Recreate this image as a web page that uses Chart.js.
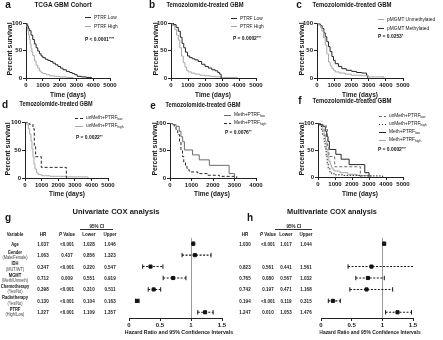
<!DOCTYPE html>
<html>
<head>
<meta charset="utf-8">
<script src="https://cdn.jsdelivr.net/npm/chart.js@4.4.0/dist/chart.umd.min.js"></script>
<style>
  body { margin: 0; background: #fff; }
  #fig { position: relative; width: 443px; height: 340px; overflow: hidden;
         font-family: "Liberation Sans", Arial, sans-serif; color: #161616; }
  #fig canvas { position: absolute; }
  .t { position: absolute; white-space: nowrap; line-height: 1; }
  .t sup { font-size: 70%; vertical-align: 35%; }
  .t sub { font-size: 70%; vertical-align: -20%; }
  .key { position: absolute; height: 1px; }
</style>
</head>
<body>
<div id="fig"></div>
<script>
// Kaplan-Meier curves: day of each step and % surviving after it
const tcgaLowDays   = [0, 50, 100, 150, 200, 300, 400, 500, 600, 700, 800, 900, 1000, 1150, 1300, 1450, 1600, 1750, 1900, 2050, 2200, 2400, 2600, 2750, 2900, 3050, 3300, 3600, 3900];
const tcgaLowSurv   = [100, 97, 94, 90, 86, 78, 70, 62, 55, 49, 44, 40, 37, 34, 32, 30, 27, 24, 21, 18, 15, 12, 10, 8, 6, 3, 2, 1, 0];
const tcgaHighDays  = [0, 50, 100, 150, 200, 250, 300, 350, 400, 500, 600, 700, 800, 900, 1000, 1200, 1400, 1700, 2000, 2400, 2800];
const tcgaHighSurv  = [100, 93, 86, 78, 70, 62, 54, 47, 41, 31, 23, 18, 13, 10, 8, 6, 4, 3, 2, 1, 0];

const tmzLowDays    = [0, 150, 300, 430, 550, 650, 750, 850, 970, 1100, 1250, 1400, 1600, 1800, 2000, 2200, 2400, 2600, 2750, 2860, 2950];
const tmzLowSurv    = [100, 97, 92, 85, 74, 63, 55, 47, 40, 37, 35, 33, 30, 25, 21, 18, 15, 13, 10, 7, 0];
const tmzHighDays   = [0, 100, 230, 330, 430, 520, 620, 720, 820, 920, 1000, 1200, 1400, 1700, 2000, 2300, 2600, 3000, 3900];
const tmzHighSurv   = [100, 95, 88, 78, 69, 55, 40, 28, 20, 14, 11, 9, 7, 5, 4, 3, 2, 1, 0];

const methDays      = [0, 100, 200, 300, 400, 480, 570, 670, 760, 865, 960, 1060, 1250, 1440, 1700, 2020, 2300, 2600, 2880, 2950];
const methSurv      = [100, 98, 95, 90, 82, 75, 66, 57, 48, 39, 32, 26, 21, 17, 14, 12, 10, 9, 5, 0];
const unmethDays    = [0, 100, 200, 290, 380, 480, 570, 670, 770, 865, 960, 1060, 1300, 1630, 2000, 2600, 3000, 3900];
const unmethSurv    = [100, 96, 92, 85, 73, 60, 44, 29, 22, 17, 14, 11, 9, 7, 5, 4, 2, 0];

const unmethLowDays  = [0, 250, 480, 560, 640, 980, 2490];
const unmethLowSurv  = [100, 96, 88, 58, 38, 19, 0];
const unmethHighDays = [0, 100, 200, 280, 360, 420, 480, 540, 600, 700, 800, 1000, 1500, 2500, 3800];
const unmethHighSurv = [100, 96, 88, 78, 66, 52, 38, 25, 16, 9, 6, 4, 3, 2, 0];

const methLowDays   = [0, 120, 280, 430, 510, 590, 670, 1050, 1360, 1830, 2750, 3000];
const methLowSurv   = [100, 97, 94, 85, 75, 66, 51, 42, 33, 23, 8, 0];
const methHighDays  = [0, 100, 200, 280, 360, 440, 510, 580, 640, 720, 790, 880, 980, 1290, 1750, 2300, 3100];
const methHighSurv  = [100, 97, 94, 88, 79, 66, 51, 39, 29, 22, 17, 13, 11, 8, 5, 3, 0];

// axis ticks
const dayTicks5k = [0, 1000, 2000, 3000, 4000, 5000];
const dayTicks4k = [0, 1000, 2000, 3000, 4000];
const survTicks  = [0, 50, 100];

// Cox regression results
const coxVars    = ['Age', 'Gender', 'IDH', 'MGMT', 'Chemotherapy', 'Radiotherapy', 'PTRF'];
const coxVarSub  = ['', '(Male/Female)', '(MUT/WT)', '(Meth/Unmeth)', '(Yes/No)', '(Yes/No)', '(High/Low)'];
const uniHR      = [1.037, 1.063, 0.347, 0.712, 0.398, 0.130, 1.227];
const uniP       = ['<0.001', '0.437', '<0.001', '0.009', '<0.001', '<0.001', '<0.001'];
const uniLower   = [1.028, 0.856, 0.220, 0.551, 0.310, 0.104, 1.109];
const uniUpper   = [1.046, 1.323, 0.547, 0.919, 0.511, 0.163, 1.357];
const multiHR    = [1.030, null, 0.823, 0.765, 0.742, 0.194, 1.247];
const multiP     = ['<0.001', null, '0.561', '0.080', '0.197', '<0.001', '0.010'];
const multiLower = [1.017, null, 0.441, 0.567, 0.471, 0.119, 1.053];
const multiUpper = [1.044, null, 1.561, 1.032, 1.168, 0.315, 1.476];
const hrTicks    = [0, 0.5, 1, 1.5];

const fig = document.getElementById('fig');
const FONT = '"Liberation Sans", Arial, sans-serif';
Chart.defaults.font.family = FONT;
Chart.defaults.color = '#161616';
const DARK = '#262626', MID = '#6c6c6c', LIGHT = '#a8a8a8';

function label(html, x, y, o) {
  o = o || {};
  const el = document.createElement('div');
  el.className = 't';
  el.innerHTML = html;
  el.style.fontSize = (o.size || 6) + 'px';
  el.style.fontWeight = o.bold === false ? 'normal' : 'bold';
  if (o.color) el.style.color = o.color;
  el.style.left = x + 'px';
  el.style.top = y + 'px';
  fig.appendChild(el);
  let k = o.k || 1;
  if (o.w) k = o.w / el.offsetWidth;
  const left = o.align === 'left';
  el.style.transformOrigin = left ? '0 50%' : '50% 50%';
  el.style.transform = 'translate(' + (left ? '0' : '-50%') + ',-50%) rotate(' + (o.rot || 0) + 'deg) scaleX(' + k + ')';
}

function keyLine(x, y, len, color, dash) {
  const el = document.createElement('div');
  el.className = 'key';
  el.style.left = x + 'px';
  el.style.top = (y - 0.5) + 'px';
  el.style.width = len + 'px';
  el.style.background = dash
    ? 'repeating-linear-gradient(90deg,' + color + ' 0 ' + dash[0] + 'px, transparent ' + dash[0] + 'px ' + (dash[0] + dash[1]) + 'px)'
    : color;
  fig.appendChild(el);
}

function addCanvas(b) {
  const c = document.createElement('canvas');
  c.width = b.w; c.height = b.h;
  c.style.left = b.x + 'px'; c.style.top = b.y + 'px';
  c.style.width = b.w + 'px'; c.style.height = b.h + 'px';
  fig.appendChild(c);
  return c;
}

const tickFont = { family: FONT, size: 6, weight: 'bold' };

const kmPanels = [
  { letter: 'a', at: [8, 5], title: 'TCGA GBM Cohort', titleAt: [63, 5], titleW: 57,
    box: { x: 0, y: 0, w: 148, h: 97 }, plot: { l: 26, r: 110, t: 23, b: 78 }, xTicks: dayTicks5k,
    yLab: [9, 49], xLab: [68, 94],
    curves: [
      { days: tcgaLowDays, surv: tcgaLowSurv, color: DARK, name: 'PTRF Low' },
      { days: tcgaHighDays, surv: tcgaHighSurv, color: LIGHT, name: 'PTRF High' }],
    key: { x: 85, len: 6, ys: [17, 26] }, p: { text: 'P &lt; 0.0001', stars: '****', x: 85, y: 39 } },
  { letter: 'b', at: [152, 5], title: 'Temozolomide-treated GBM', titleAt: [205, 5], titleW: 77,
    box: { x: 148, y: 0, w: 147, h: 97 }, plot: { l: 171, r: 256, t: 23, b: 78 }, xTicks: dayTicks5k,
    yLab: [155, 49], xLab: [213, 94],
    curves: [
      { days: tmzLowDays, surv: tmzLowSurv, color: DARK, name: 'PTRF Low' },
      { days: tmzHighDays, surv: tmzHighSurv, color: LIGHT, name: 'PTRF High' }],
    key: { x: 231, len: 6, ys: [18, 26] }, p: { text: 'P = 0.0002', stars: '***', x: 233, y: 38 } },
  { letter: 'c', at: [299, 5], title: 'Temozolomide-treated GBM', titleAt: [352, 5], titleW: 79,
    box: { x: 295, y: 0, w: 148, h: 97 }, plot: { l: 317, r: 403, t: 23, b: 78 }, xTicks: dayTicks5k,
    yLab: [301, 49], xLab: [360, 94],
    curves: [
      { days: unmethDays, surv: unmethSurv, color: LIGHT, name: 'pMGMT Unmethylated' },
      { days: methDays, surv: methSurv, color: DARK, name: 'pMGMT Methylated' }],
    key: { x: 378, len: 6, ys: [19, 28] }, p: { text: 'P = 0.0253', stars: '*', x: 378, y: 36 } },
  { letter: 'd', at: [5, 105], title: 'Temozolomide-treated GBM', titleAt: [56, 104], titleW: 73,
    box: { x: 0, y: 97, w: 148, h: 98 }, plot: { l: 25, r: 108, t: 122, b: 178 }, xTicks: dayTicks5k,
    yLab: [7, 149], xLab: [67, 193],
    curves: [
      { days: unmethLowDays, surv: unmethLowSurv, color: DARK, dash: [3, 2], name: 'unMeth+PTRF<sub>low</sub>' },
      { days: unmethHighDays, surv: unmethHighSurv, color: LIGHT, name: 'unMeth+PTRF<sub>high</sub>' }],
    key: { x: 75, len: 8, ys: [118, 126] }, p: { text: 'P = 0.0022', stars: '**', x: 76, y: 137 } },
  { letter: 'e', at: [153, 106], title: 'Temozolomide-treated GBM', titleAt: [203, 105], titleW: 75,
    box: { x: 148, y: 97, w: 147, h: 98 }, plot: { l: 170, r: 256, t: 123, b: 178 }, xTicks: dayTicks4k,
    yLab: [154, 149], xLab: [212, 193],
    curves: [
      { days: methLowDays, surv: methLowSurv, color: MID, name: 'Meth+PTRF<sub>low</sub>' },
      { days: methHighDays, surv: methHighSurv, color: DARK, dash: [3, 2], name: 'Meth+PTRF<sub>high</sub>' }],
    key: { x: 224, len: 7, ys: [115, 123] }, p: { text: 'P = 0.0076', stars: '**', x: 225, y: 132 } },
  { letter: 'f', at: [300, 101], title: 'Temozolomide-treated GBM', titleAt: [352, 101], titleW: 79,
    box: { x: 295, y: 97, w: 148, h: 98 }, plot: { l: 318, r: 403, t: 123, b: 177 }, xTicks: dayTicks5k,
    yLab: [301, 149], xLab: [360, 193],
    curves: [
      { days: unmethLowDays, surv: unmethLowSurv, color: MID, dash: [3, 2], name: 'unMeth+PTRF<sub>low</sub>' },
      { days: unmethHighDays, surv: unmethHighSurv, color: DARK, dash: [1.5, 1.5], name: 'unMeth+PTRF<sub>high</sub>' },
      { days: methLowDays, surv: methLowSurv, color: DARK, name: 'Meth+PTRF<sub>low</sub>' },
      { days: methHighDays, surv: methHighSurv, color: LIGHT, name: 'Meth+PTRF<sub>high</sub>' }],
    key: { x: 379, len: 7, ys: [116, 124, 132, 140] }, p: { text: 'P = 0.0002', stars: '***', x: 378, y: 149 } }
];

kmPanels.forEach(pn => {
  const b = pn.box, pl = pn.plot;
  new Chart(addCanvas(b), {
    type: 'scatter',
    data: {
      datasets: pn.curves.map(c => ({
        data: c.days.map((d, i) => ({ x: d, y: c.surv[i] })),
        showLine: true, stepped: true,
        borderColor: c.color, borderWidth: 1, borderDash: c.dash || [],
        pointRadius: 0
      }))
    },
    options: {
      responsive: false, animation: false, devicePixelRatio: 1,
      layout: { padding: { top: pl.t - b.y, right: b.x + b.w - pl.r, left: 0, bottom: 0 } },
      plugins: { legend: { display: false }, tooltip: { enabled: false } },
      scales: {
        x: {
          type: 'linear', min: 0, max: pn.xTicks[pn.xTicks.length - 1],
          afterBuildTicks: s => { s.ticks = pn.xTicks.map(v => ({ value: v })); },
          afterFit: s => { s.height = b.y + b.h - pl.b; },
          ticks: { maxRotation: 0, autoSkip: false, padding: 1, font: tickFont, color: '#161616',
                   callback: v => String(v) },
          grid: { drawOnChartArea: false, tickLength: 3, color: '#222' },
          border: { color: '#222' }
        },
        y: {
          min: 0, max: 100,
          afterBuildTicks: s => { s.ticks = survTicks.map(v => ({ value: v })); },
          afterFit: s => { s.width = pl.l - b.x; },
          ticks: { padding: 1, font: tickFont, color: '#161616', callback: v => String(v) },
          grid: { drawOnChartArea: false, tickLength: 3, color: '#222' },
          border: { color: '#222' }
        }
      }
    }
  });

  label(pn.letter, pn.at[0], pn.at[1], { size: 10 });
  label(pn.title, pn.titleAt[0], pn.titleAt[1], { size: 7.5, w: pn.titleW });
  label('Percent survival', pn.yLab[0], pn.yLab[1], { size: 7, rot: -90, w: 53 });
  label('Time (days)', pn.xLab[0], pn.xLab[1], { size: 7, w: 36 });
  pn.curves.forEach((c, i) => {
    const y = pn.key.ys[i];
    keyLine(pn.key.x, y, pn.key.len, c.color, c.dash);
    label(c.name, pn.key.x + pn.key.len + 3, y, { size: 6, bold: false, k: 0.8, align: 'left' });
  });
  label(pn.p.text + '<sup>' + pn.p.stars + '</sup>', pn.p.x, pn.p.y, { size: 6, k: 0.82, align: 'left' });
});

// Forest plots of hazard ratios with 95% CI
const forestPlot = { t: 238, b: 318 };
const rowY = i => forestPlot.t + (i + 0.5) * (forestPlot.b - forestPlot.t) / coxVars.length;

function forest(box, plot, hr, lo, hi) {
  const sets = [];
  hr.forEach((v, i) => {
    if (v == null) return;
    sets.push({
      data: [{ x: lo[i], y: i }, { x: hi[i], y: i }],
      showLine: true, borderColor: '#161616', borderWidth: 1.1, borderDash: [2, 1.5],
      pointStyle: 'line', rotation: 90, pointRadius: 2.2,
      pointBorderColor: '#161616', pointBorderWidth: 1
    });
  });
  sets.push({
    data: hr.map((v, i) => v == null ? null : { x: v, y: i }).filter(Boolean),
    pointStyle: 'rect', pointRadius: 2.2, backgroundColor: '#111', borderColor: '#111'
  });
  new Chart(addCanvas(box), {
    type: 'scatter',
    data: { datasets: sets },
    options: {
      responsive: false, animation: false, devicePixelRatio: 1,
      layout: { padding: { top: plot.t - box.y, left: plot.l - box.x, right: box.x + box.w - plot.r, bottom: 0 } },
      plugins: { legend: { display: false }, tooltip: { enabled: false } },
      scales: {
        x: {
          type: 'linear', min: hrTicks[0], max: hrTicks[hrTicks.length - 1],
          afterBuildTicks: s => { s.ticks = hrTicks.map(v => ({ value: v })); },
          afterFit: s => { s.height = box.y + box.h - plot.b; },
          ticks: { callback: v => String(v), padding: 1, maxRotation: 0, font: { family: FONT, size: 6, weight: 'bold' }, color: '#161616' },
          grid: { color: c => (c.tick && c.tick.value === 1) ? '#9a9a9a' : 'rgba(0,0,0,0)', tickColor: '#222', tickLength: 3 },
          border: { color: '#222' }
        },
        y: { display: false, reverse: true, min: -0.5, max: coxVars.length - 0.5 }
      }
    }
  });
}

function coxTable(cols, hr, p, lo, hi, withVars) {
  const vk = 0.75;
  label('95% CI', (cols.ci[0] + cols.ci[1]) / 2, 226, { size: 6, k: vk });
  keyLine(cols.ci[0], 229.5, cols.ci[1] - cols.ci[0], '#333');
  if (withVars) label('Variable', cols.vars, 234, { size: 6, k: 0.72 });
  label('HR', cols.hr, 234, { size: 6, k: vk });
  label('<i>P</i> Value', cols.p, 234, { size: 6, k: vk });
  label('Lower', cols.lo, 234, { size: 6, k: vk });
  label('Upper', cols.hi, 234, { size: 6, k: vk });
  coxVars.forEach((v, i) => {
    const y = rowY(i);
    if (withVars) {
      if (coxVarSub[i]) {
        label(v, cols.vars, y - 3.5, { size: 6, k: 0.68 });
        label(coxVarSub[i], cols.vars, y + 2, { size: 5, bold: false, k: 0.78, color: '#444' });
      } else {
        label(v, cols.vars, y, { size: 6, k: 0.68 });
      }
    }
    if (hr[i] == null) return;
    label(hr[i].toFixed(3), cols.hr, y, { size: 6, k: vk });
    label(p[i], cols.p, y, { size: 6, k: vk });
    label(lo[i].toFixed(3), cols.lo, y, { size: 6, k: vk });
    label(hi[i].toFixed(3), cols.hi, y, { size: 6, k: vk });
  });
}

// g: univariate
forest({ x: 115, y: 230, w: 115, h: 100 }, { l: 129, r: 222, t: forestPlot.t, b: forestPlot.b }, uniHR, uniLower, uniUpper);
label('g', 8, 218, { size: 10 });
label('Univariate COX analysis', 116, 212, { size: 8, w: 87 });
coxTable({ vars: 15, hr: 43, p: 67, lo: 89, hi: 110, ci: [80, 113] }, uniHR, uniP, uniLower, uniUpper, true);
label('Hazard Ratio and 95% Confidence Intervals', 179, 332, { size: 6, w: 108 });

// h: multivariate
forest({ x: 308, y: 230, w: 135, h: 100 }, { l: 321, r: 413, t: forestPlot.t, b: forestPlot.b }, multiHR, multiLower, multiUpper);
label('h', 250, 218, { size: 10 });
label('Multivariate COX analysis', 332, 212, { size: 8, w: 90 });
coxTable({ hr: 245, p: 268, lo: 286, hi: 306, ci: [275, 312] }, multiHR, multiP, multiLower, multiUpper, false);
label('Hazard Ratio and 95% Confidence Intervals', 370, 332, { size: 6, w: 101 });
</script>
</body>
</html>
